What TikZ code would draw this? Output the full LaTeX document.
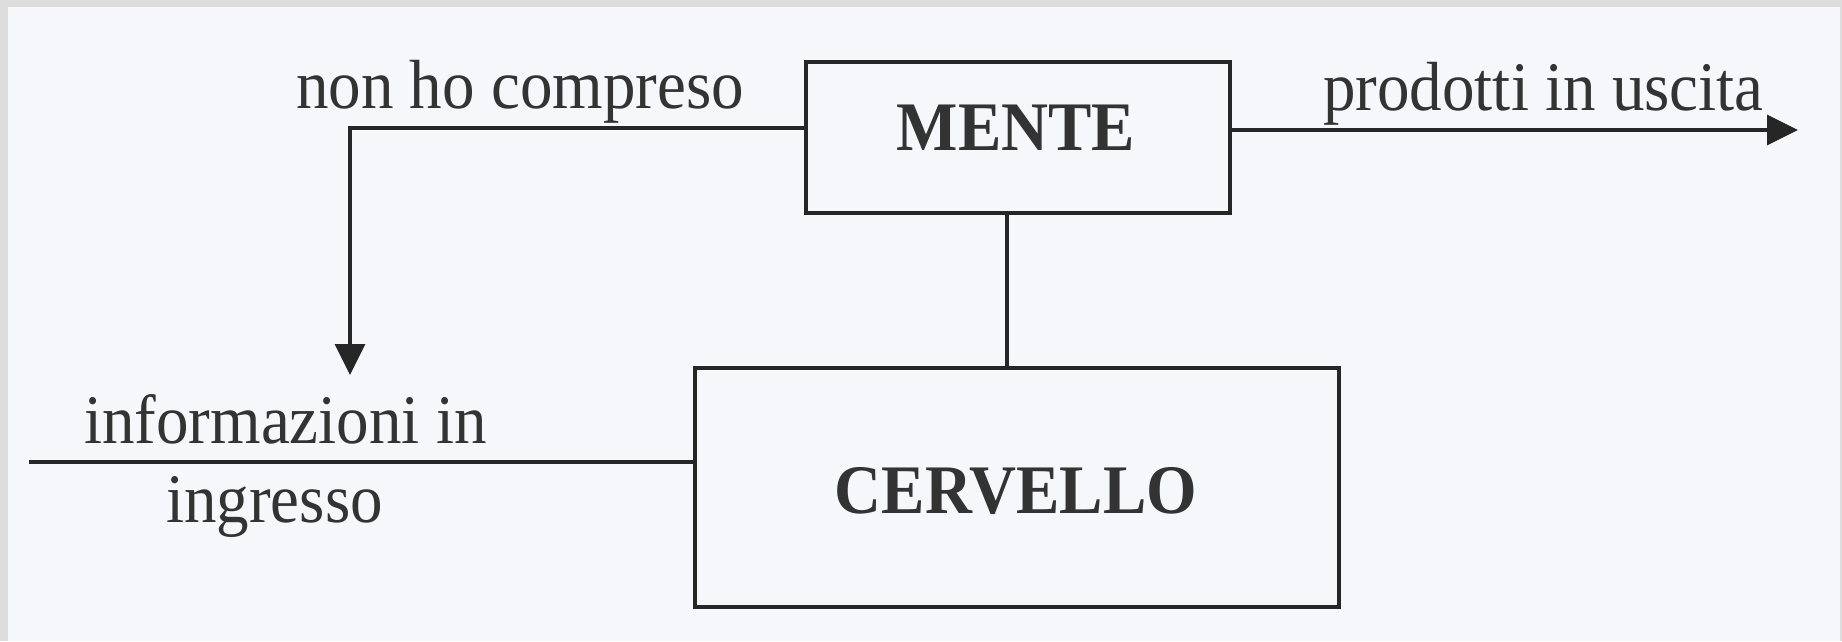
\documentclass[tikz,border=0pt]{standalone}
\usepackage{fontspec}
\setmainfont{Liberation Serif}
\usetikzlibrary{arrows.meta}
\definecolor{bgc}{HTML}{F5F7FB}
\definecolor{framec}{HTML}{DCDCDC}
\definecolor{inkc}{HTML}{262626}
\definecolor{txtc}{HTML}{333333}
\tikzset{
  boxnode/.style={draw=inkc, line width=4pt, inner sep=0pt, fill=none},
  lbl/.style={inner sep=0pt, text=txtc, font=\fontsize{65}{70}\selectfont, yscale=1.07, transform shape},
  boldlbl/.style={inner sep=0pt, text=txtc, font=\fontsize{65}{70}\selectfont\bfseries, yscale=1.07, transform shape},
  conn/.style={draw=inkc, line width=3.5pt},
  arr/.style={conn, -{Triangle[length=31pt, width=30pt]}}
}
\begin{document}
\begin{tikzpicture}[x=1pt, y=-1pt]
  \useasboundingbox (0,0) rectangle (1842,641);
  \fill[bgc] (0,0) rectangle (1842,641);
  \fill[framec] (0,0) rectangle (1842,7);
  \fill[framec] (0,0) rectangle (8,641);
  \fill[framec] (1840,0) rectangle (1842,641);

  % boxes
  \node[boxnode, minimum width=424pt, minimum height=151pt] (mente) at (1018,137.5) {};
  \node[boxnode, minimum width=644pt, minimum height=239pt] (cervello) at (1017,487.5) {};

  % box texts
  \node[boldlbl, anchor=base] (mentetxt) at (1016,150) {MENTE};
  \node[boldlbl, anchor=base] (cervellotxt) at (1016,513) {CERVELLO};

  % labels
  \node[lbl, anchor=base west] (nonho) at (296,108) {non ho compreso};
  \node[lbl, anchor=base west] (prodotti) at (1323,110) {prodotti in uscita};
  \node[lbl, anchor=base west] (info) at (84,443) {informazioni in};
  \node[lbl, anchor=base west] (ingresso) at (166,522) {ingresso};

  % helper coordinates
  \coordinate (turn) at (350,128);
  \coordinate (lefttip) at (350,375);
  \coordinate (outtip) at (1798,130);
  \coordinate (vx) at (1007,0);
  \coordinate (inleft) at (29,462);

  % connectors
  \draw[arr] (turn -| mente.west) -- (turn) -- (lefttip);
  \draw[arr] (outtip -| mente.east) -- (outtip);
  \draw[conn] (vx |- mente.south) -- (vx |- cervello.north);
  \draw[conn] (inleft) -- (inleft -| cervello.west);
\end{tikzpicture}
\end{document}
